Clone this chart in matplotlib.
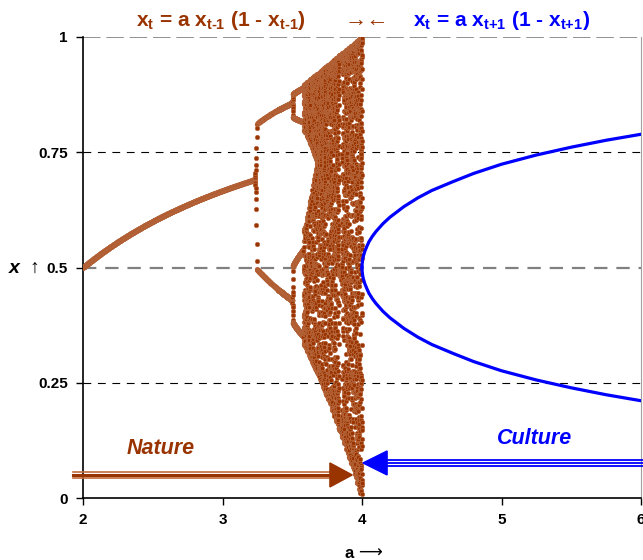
import numpy as np
import matplotlib
matplotlib.use("Agg")
import matplotlib.pyplot as plt
from matplotlib.patches import Polygon

plt.rcParams['font.family'] = ['Liberation Sans', 'DejaVu Sans']
plt.rcParams['mathtext.fontset'] = 'custom'
plt.rcParams['mathtext.rm'] = 'Liberation Sans:bold'
plt.rcParams['mathtext.bf'] = 'Liberation Sans:bold'
plt.rcParams['mathtext.default'] = 'regular'

# logistic map swept slowly in a: x_t = a_t x_{t-1} (1 - x_{t-1})
# a goes through the knots, with the given number of iterations per segment
a_knots = [2.0, 3.4, 4.0]
n_steps = [1700, 6000]
x_start = 0.5

# blue branch: x against a for 4 <= a <= 6
a_blue = [4.0, 4.001, 4.005, 4.01, 4.02, 4.035, 4.05, 4.075, 4.1, 4.15, 4.2, 4.3,
          4.4, 4.5, 4.65, 4.8, 5.0, 5.25, 5.5, 5.75, 6.0]
x_blue_up = [0.500, 0.508, 0.518, 0.525, 0.535, 0.546, 0.556, 0.568, 0.578, 0.595,
             0.609, 0.632, 0.651, 0.667, 0.686, 0.704, 0.724, 0.744, 0.761, 0.776, 0.789]
x_blue_lo = [0.500, 0.492, 0.482, 0.475, 0.465, 0.454, 0.444, 0.432, 0.422, 0.405,
             0.391, 0.368, 0.349, 0.333, 0.314, 0.296, 0.276, 0.256, 0.239, 0.224, 0.211]

x_ticks = [2, 3, 4, 5, 6]
y_ticks = [0, 0.25, 0.5, 0.75, 1]
y_tick_labels = ['0', '0.25', '0.5', '0.75', '1']

brown = '#993300'
blue = '#0000ff'

# iterate the map
segs = []
for k in range(len(n_steps)):
    seg = np.linspace(a_knots[k], a_knots[k+1], n_steps[k] + 1)
    segs.append(seg if k == 0 else seg[1:])
a_vals = np.concatenate(segs)
x_vals = np.empty_like(a_vals)
x = x_start
for i, a in enumerate(a_vals):
    if i > 0:
        x = a * x * (1 - x)
    x_vals[i] = x

fig = plt.figure(figsize=(6.43, 5.6), dpi=100)
ax = fig.add_axes([83/643, 62/560, 558/643, 461/560])

# grid lines
for yv in [0.25, 0.75]:
    ax.axhline(yv, color='black', lw=0.8, ls=(0, (7, 6)), zorder=1)
ax.axhline(0.5, color='#808080', lw=1.6, ls=(0, (6, 4)), zorder=1)
ax.axhline(1.0, color='#909090', lw=1.4, ls=(0, (9, 3)), zorder=1)

ax.plot(a_vals, x_vals, 'o', ms=3.2, mfc=brown, mec='#b86a40', mew=0.5, zorder=3)
ax.plot(a_blue, x_blue_up, color=blue, lw=2.3, zorder=3)
ax.plot(a_blue, x_blue_lo, color=blue, lw=2.3, zorder=3)

ax.set_xlim(2, 6)
ax.set_ylim(0, 1)
ax.set_xticks(x_ticks)
ax.set_xticklabels([str(t) for t in x_ticks], fontweight='bold', fontsize=11)
ax.set_yticks(y_ticks)
ax.set_yticklabels(y_tick_labels, fontweight='bold', fontsize=11)
ax.tick_params(length=5, width=1, direction='out', pad=6)
ax.spines['top'].set_visible(False)
ax.spines['right'].set_color('#a0a0a0')
ax.spines['right'].set_linewidth(0.8)
ax.spines['left'].set_linewidth(1.2)
ax.spines['bottom'].set_linewidth(1.2)

# Nature arrow (pointing right)
yn = 0.050
ax.plot([1.93, 3.78], [yn + 0.0068, yn + 0.0068], color='#c26a3c', lw=1.2, clip_on=False, zorder=4)
ax.plot([1.93, 3.78], [yn, yn], color=brown, lw=2.2, clip_on=False, zorder=4)
ax.plot([1.93, 3.78], [yn - 0.0068, yn - 0.0068], color='#c26a3c', lw=1.2, clip_on=False, zorder=4)
ax.add_patch(Polygon([[3.77, yn + 0.026], [3.93, yn], [3.77, yn - 0.026]], closed=True,
                     fc=brown, ec=brown, zorder=5))

# Culture arrow (pointing left)
yc = 0.076
for dy in [0.0058, 0.0, -0.0058]:
    ax.plot([4.16, 6.02], [yc + dy, yc + dy], color=blue, lw=1.3, clip_on=False, zorder=4)
ax.add_patch(Polygon([[4.18, yc + 0.026], [4.007, yc], [4.18, yc - 0.026]], closed=True,
                     fc=blue, ec=blue, zorder=5))

ax.text(2.56, 0.108, 'Nature', color=brown, fontsize=15.5, fontweight='bold',
        fontstyle='italic', ha='center', va='center')
ax.text(5.24, 0.128, 'Culture', color=blue, fontsize=15.5, fontweight='bold',
        fontstyle='italic', ha='center', va='center')

# titles
fig.text(221/643, 1 - 20/560, r'x$_{\text{t}}$ = a x$_{\text{t-1}}$ (1 - x$_{\text{t-1}}$)',
         color=brown, fontsize=15, fontweight='bold', ha='center', va='center')
fig.text(367/643, 1 - 20/560, '\u2192\u2190', color=brown, fontsize=16,
         ha='center', va='center')
fig.text(502/643, 1 - 20/560, r'x$_{\text{t}}$ = a x$_{\text{t+1}}$ (1 - x$_{\text{t+1}}$)',
         color=blue, fontsize=15, fontweight='bold', ha='center', va='center')

# axis labels
fig.text(349/643, 1 - 554/560, 'a', fontsize=12, fontweight='bold', ha='center', va='center')
fig.text(370/643, 1 - 553/560, '\u27f6', fontsize=12, ha='center', va='center')
fig.text(14/643, 1 - 268/560, 'x', fontsize=14, fontweight='bold', fontstyle='italic',
         ha='center', va='center')
fig.text(34/643, 1 - 268/560, '\u2191', fontsize=14, ha='center', va='center')

fig.savefig('out.png', dpi=100)
